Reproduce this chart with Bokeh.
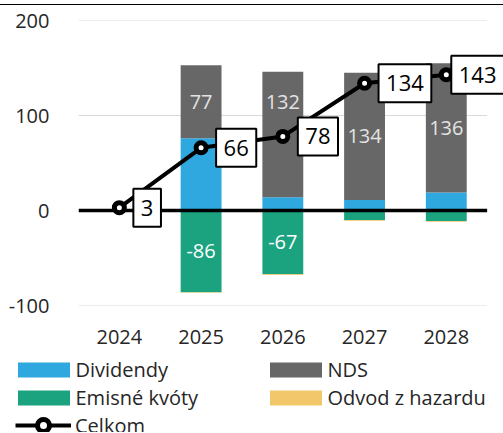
import numpy as np
from bokeh.plotting import figure
from bokeh.models import (ColumnDataSource, Range1d, FixedTicker, LabelSet,
                          Legend, LegendItem)
from bokeh.core.properties import value
from bokeh.embed import file_html
from bokeh.resources import INLINE

years = [2024, 2025, 2026, 2027, 2028]
dividendy = [0, 76, 14, 11, 19]
nds = [0, 77, 132, 134, 136]
emisne = [0, -86, -67, -10, -11]
hazard = [1, -0.5, -0.8, -0.8, -0.8]
celkom = [3, 66, 78, 134, 143]
y_ticks = [-100, 0, 100, 200]

series = [("Dividendy", dividendy, "#2EA8DF"),
          ("NDS", nds, "#676767"),
          ("Emisné kvóty", emisne, "#1BA37F"),
          ("Odvod z hazardu", hazard, "#F2C76B")]

FONT = "Open Sans"
TXT = "#262626"
BOX_GAP = [14, 15, 15, 14, 5]   # pixel gap between a Celkom point and its label box
BOX_PAD = 7.5
BOX_H = 38
DIGIT_W = 0.572 * 22

x_lo = years[0] - 0.5
x_hi = years[-1] + 0.5
x_end = x_hi + 0.2
W, H = 503, 345
LEFT = 78
p = figure(x_range=Range1d(x_lo, x_end), y_range=Range1d(-100, 200),
           width=W, height=H, output_backend="svg", toolbar_location=None,
           min_border_left=LEFT, min_border_right=0, min_border_top=15, min_border_bottom=45)
p.margin = (4, 0, 0, 0)
p.styles = {"border-top": "1px solid black"}
p.outline_line_color = None
p.xgrid.grid_line_color = None
p.ygrid.grid_line_color = None
px_per_unit = (W - LEFT) / (x_end - x_lo)

# gridlines (stop at the last category, like the reference)
grid_y = [t for t in y_ticks if t != 0]
p.segment(x0=[x_lo] * len(grid_y), x1=[x_hi] * len(grid_y), y0=grid_y, y1=grid_y,
          line_color="#D9D9D9", line_width=1)

# stacked bars (positive up, negative down)
pos = np.zeros(len(years))
neg = np.zeros(len(years))
bounds = {}
for name, vals, color in series:
    v = np.array(vals, dtype=float)
    bottom = np.where(v >= 0, pos, neg)
    top = bottom + v
    pos = np.where(v >= 0, top, pos)
    neg = np.where(v < 0, top, neg)
    src = ColumnDataSource(dict(x=years, bottom=bottom, top=top))
    p.vbar(x="x", bottom="bottom", top="top", width=0.5, source=src,
           fill_color=color, line_color=None)
    bounds[name] = (bottom, top)

# zero line
p.segment(x0=[x_lo], x1=[x_hi], y0=[0], y1=[0], line_color="black", line_width=3.5)

# Celkom line
p.line(x=years, y=celkom, line_color="black", line_width=4)
p.scatter(x=years, y=celkom, marker="circle", size=10, fill_color="white",
          line_color="black", line_width=5)

# axes
p.yaxis.ticker = FixedTicker(ticks=y_ticks)
p.xaxis.ticker = FixedTicker(ticks=years)
p.yaxis.major_label_overrides = {t: str(t) for t in y_ticks}
p.xaxis.major_label_overrides = {y: str(y) for y in years}
for ax in (p.xaxis, p.yaxis):
    ax.axis_line_color = None
    ax.major_tick_line_color = None
    ax.minor_tick_line_color = None
    ax.major_label_text_font = FONT
    ax.major_label_text_font_size = "20px"
    ax.major_label_text_color = TXT
p.yaxis.major_label_standoff = 23
p.xaxis.major_label_standoff = 18

# NDS labels
b, t = bounds["NDS"]
nds_src = ColumnDataSource(dict(
    x=[y for y, v in zip(years, nds) if v > 20],
    y=[(bb + tt) / 2 for bb, tt, v in zip(b, t, nds) if v > 20],
    text=[str(v) for v in nds if v > 20],
    off=[33 if y == 2026 else 0 for y, v in zip(years, nds) if v > 20]))
p.add_layout(LabelSet(x="x", y="y", text="text", y_offset="off", source=nds_src,
                      text_align="center", text_baseline="middle", text_font=value(FONT),
                      text_font_size="20px", text_color="#E3E3E3"))
b, t = bounds["Emisné kvóty"]
em_src = ColumnDataSource(dict(
    x=[y for y, v in zip(years, emisne) if abs(v) > 20],
    y=[(bb + tt) / 2 for bb, tt, v in zip(b, t, emisne) if abs(v) > 20],
    text=[str(v) for v in emisne if abs(v) > 20]))
p.add_layout(LabelSet(x="x", y="y", text="text", source=em_src,
                      text_align="center", text_baseline="middle", text_font=value(FONT),
                      text_font_size="20px", text_color="white"))

# Celkom boxed labels: white boxes (screen-sized rects) + text
texts = [str(v) for v in celkom]
box_w = [len(s) * DIGIT_W + 2 * BOX_PAD for s in texts]
box_src = ColumnDataSource(dict(
    x=[yr + (g + w / 2) / px_per_unit for yr, g, w in zip(years, BOX_GAP, box_w)],
    y=celkom, w=box_w, text=texts, xoff=[g + BOX_PAD for g in BOX_GAP], px=years))
p.rect(x="x", y="y", width="w", height=BOX_H, width_units="screen", height_units="screen",
       source=box_src, fill_color="white", line_color="black", line_width=2)
p.add_layout(LabelSet(x="px", y="y", text="text", x_offset="xoff", source=box_src,
                      text_align="left", text_baseline="middle", text_font=value(FONT),
                      text_font_size="22px", text_color="black"))

# legend canvas (its own root, frame = whole canvas, so nothing is clipped)
lg = figure(width=503, height=83, output_backend="svg", toolbar_location=None,
            x_axis_type=None, y_axis_type=None, min_border_left=0, min_border_right=0,
            min_border_top=0, min_border_bottom=0, x_range=Range1d(0, 1), y_range=Range1d(0, 1))
lg.outline_line_color = None
lg.xgrid.grid_line_color = None
lg.ygrid.grid_line_color = None

dummy = {}
for name, vals, color in series:
    dummy[name] = lg.vbar(x=[-10], top=[-10], width=0.5, fill_color=color, line_color=None)
dl = lg.line(x=[-10, -9], y=[-10, -10], line_color="black", line_width=4)
ds = lg.scatter(x=[-10], y=[-10], marker="circle", size=10, fill_color="white",
                line_color="black", line_width=5)

legend1 = Legend(items=[LegendItem(label=n, renderers=[dummy[n]]) for n, _, _ in series],
                 location=(10.5, 21), orientation="horizontal", ncols=2,
                 glyph_width=65, glyph_height=19, label_standoff=0, label_width=186,
                 spacing=1, padding=0, margin=0, border_line_color=None,
                 background_fill_alpha=0, label_text_font=FONT, label_text_font_size="20px",
                 label_text_color=TXT)
legend2 = Legend(items=[LegendItem(label="Celkom", renderers=[dl, ds])],
                 location=(15, -8), glyph_width=56, glyph_height=30, label_standoff=4,
                 padding=0, margin=0, border_line_color=None, background_fill_alpha=0,
                 label_text_font=FONT, label_text_font_size="20px", label_text_color=TXT)
lg.add_layout(legend1)
lg.add_layout(legend2)

open("out.html", "w").write(file_html([p, lg], INLINE))
